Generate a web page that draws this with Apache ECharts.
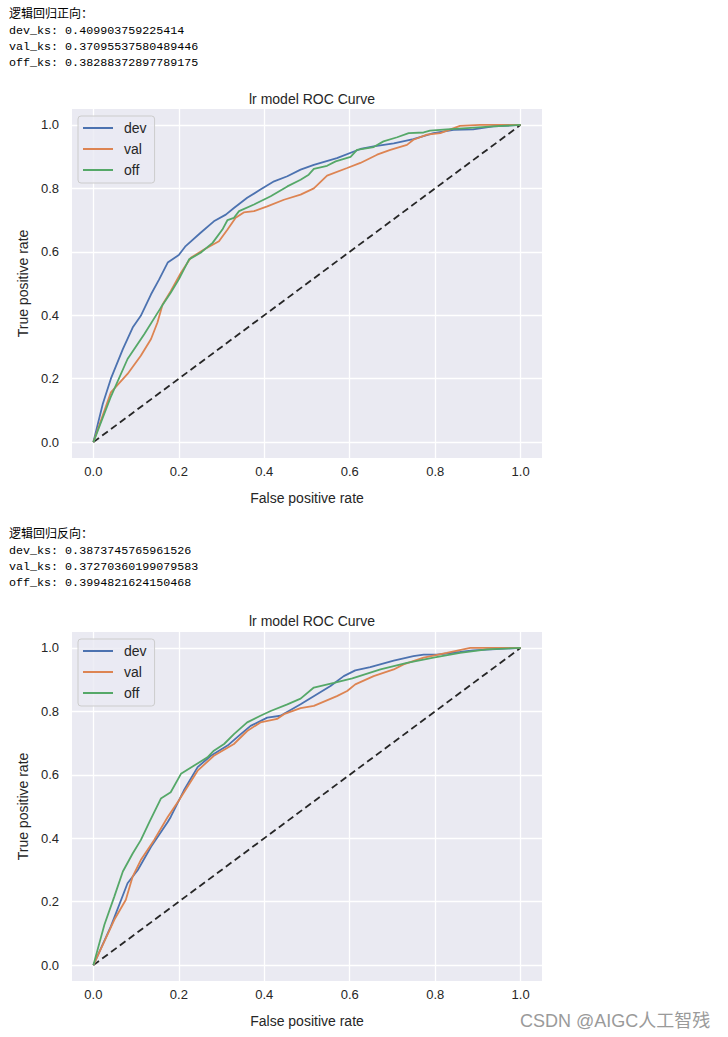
<!DOCTYPE html>
<html>
<head>
<meta charset="utf-8">
<script src="https://cdn.jsdelivr.net/npm/echarts@6/dist/echarts.min.js"></script>
<style>
  html, body { margin: 0; padding: 0; background: #ffffff; width: 728px; height: 1037px; overflow: hidden; }
  #chart { position: absolute; left: 0; top: 0; width: 728px; height: 1037px; }
  .txt { position: absolute; left: 9px; font-family: "Liberation Mono", "Noto Sans CJK SC", monospace; font-size: 11.7px; line-height: 16px; color: #000; white-space: pre; }
  .txt .cn { font-family: "Noto Sans CJK SC", sans-serif; font-size: 12px; }
  #wm { position: absolute; left: 520px; top: 1006px; font-family: "Liberation Sans", "Noto Sans CJK SC", sans-serif; font-size: 18px; color: #9a9a9a; }
</style>
</head>
<body>
<div id="chart"></div>
<div class="txt" style="top:5px"><span class="cn">逻辑回归正向：</span>
dev_ks: 0.409903759225414
val_ks: 0.37095537580489446
off_ks: 0.38288372897789175</div>
<div class="txt" style="top:525px"><span class="cn">逻辑回归反向：</span>
dev_ks: 0.3873745765961526
val_ks: 0.37270360199079583
off_ks: 0.3994821624150468</div>
<div id="wm">CSDN @AIGC人工智残</div>
<script>
// ---- data: top chart (逻辑回归正向) ----
const devTop = [[0,0],[0.022,0.12],[0.041,0.20],[0.069,0.293],[0.092,0.361],[0.111,0.398],[0.135,0.466],[0.154,0.513],[0.174,0.566],[0.2,0.59],[0.216,0.618],[0.251,0.66],[0.282,0.696],[0.31,0.717],[0.329,0.738],[0.36,0.77],[0.391,0.796],[0.423,0.822],[0.454,0.838],[0.485,0.859],[0.516,0.874],[0.57,0.895],[0.625,0.924],[0.656,0.932],[0.703,0.942],[0.749,0.955],[0.796,0.974],[0.843,0.984],[0.889,0.986],[0.936,0.995],[1,1]];
const valTop = [[0,0],[0.041,0.157],[0.08,0.215],[0.111,0.272],[0.135,0.325],[0.15,0.377],[0.162,0.434],[0.181,0.476],[0.205,0.534],[0.228,0.581],[0.259,0.607],[0.294,0.633],[0.314,0.67],[0.333,0.707],[0.352,0.724],[0.376,0.728],[0.407,0.743],[0.446,0.764],[0.485,0.78],[0.516,0.80],[0.547,0.84],[0.594,0.864],[0.625,0.88],[0.664,0.906],[0.695,0.921],[0.734,0.937],[0.749,0.953],[0.781,0.969],[0.812,0.974],[0.858,0.997],[0.905,1.0],[1,1]];
const offTop = [[0,0],[0.04,0.14],[0.08,0.262],[0.119,0.34],[0.158,0.424],[0.181,0.471],[0.2,0.513],[0.224,0.576],[0.251,0.597],[0.279,0.628],[0.302,0.67],[0.314,0.70],[0.329,0.707],[0.341,0.728],[0.376,0.749],[0.415,0.775],[0.454,0.806],[0.485,0.827],[0.504,0.843],[0.516,0.861],[0.547,0.871],[0.567,0.885],[0.602,0.899],[0.617,0.921],[0.656,0.930],[0.679,0.948],[0.711,0.961],[0.738,0.974],[0.773,0.976],[0.788,0.982],[0.827,0.986],[0.874,0.99],[0.936,0.995],[1,1]];
// ---- data: bottom chart (逻辑回归反向) ----
const devBot = [[0,0],[0.041,0.122],[0.08,0.258],[0.104,0.30],[0.135,0.373],[0.174,0.451],[0.181,0.467],[0.212,0.551],[0.244,0.624],[0.275,0.66],[0.314,0.692],[0.345,0.728],[0.368,0.754],[0.407,0.78],[0.438,0.786],[0.485,0.822],[0.555,0.88],[0.586,0.911],[0.613,0.929],[0.648,0.939],[0.703,0.96],[0.749,0.974],[0.773,0.979],[0.804,0.979],[0.858,0.987],[0.889,0.992],[1,1]];
const valBot = [[0,0],[0.049,0.143],[0.076,0.206],[0.092,0.279],[0.111,0.331],[0.142,0.394],[0.174,0.467],[0.2,0.519],[0.244,0.613],[0.282,0.66],[0.329,0.697],[0.36,0.738],[0.391,0.765],[0.43,0.776],[0.446,0.791],[0.485,0.81],[0.516,0.817],[0.57,0.848],[0.594,0.864],[0.613,0.885],[0.656,0.911],[0.703,0.932],[0.726,0.948],[0.773,0.969],[0.827,0.984],[0.882,1.0],[1,1]];
const offBot = [[0,0],[0.026,0.128],[0.049,0.216],[0.069,0.295],[0.092,0.352],[0.111,0.394],[0.131,0.451],[0.158,0.525],[0.181,0.545],[0.205,0.603],[0.236,0.629],[0.267,0.655],[0.282,0.676],[0.306,0.697],[0.329,0.728],[0.36,0.765],[0.391,0.786],[0.415,0.801],[0.454,0.822],[0.485,0.840],[0.516,0.875],[0.563,0.89],[0.606,0.904],[0.672,0.932],[0.734,0.953],[0.796,0.969],[0.858,0.984],[0.921,0.995],[1,1]];
const diagonal = [[0,0],[1,1]];
const ticks = [0, 0.2, 0.4, 0.6, 0.8, 1.0];
const seriesNames = ['dev', 'val', 'off'];
const titleText = 'lr model ROC Curve';
const xName = 'False positive rate';
const yName = 'True positive rate';

const colors = ['#4C72B0', '#DD8452', '#55A868'];
const font = '"Liberation Sans", Arial, sans-serif';
const txtColor = '#262626';

function mkX(idx) {
  return {
    gridIndex: idx, type: 'value', min: -0.05, max: 1.05,
    axisLine: { show: false },
    axisTick: { show: false, customValues: ticks },
    axisLabel: { customValues: ticks, formatter: v => v.toFixed(1), color: txtColor, fontSize: 13, fontFamily: font, margin: 7 },
    splitLine: { show: true, lineStyle: { color: '#ffffff', width: 1.3 } },
    name: xName, nameLocation: 'middle', nameGap: 33,
    nameTextStyle: { color: txtColor, fontSize: 14, fontFamily: font }
  };
}
function mkY(idx) {
  return {
    gridIndex: idx, type: 'value', min: -0.05, max: 1.05,
    axisLine: { show: false },
    axisTick: { show: false, customValues: ticks },
    axisLabel: { customValues: ticks, formatter: v => v.toFixed(1), color: txtColor, fontSize: 13, fontFamily: font, margin: 13 },
    splitLine: { show: true, lineStyle: { color: '#ffffff', width: 1.3 } },
    name: yName, nameLocation: 'middle', nameGap: 42, nameRotate: 90,
    nameTextStyle: { color: txtColor, fontSize: 14, fontFamily: font }
  };
}
function mkSeries(idx, sets) {
  const out = sets.map((d, i) => ({
    type: 'line', name: seriesNames[i], xAxisIndex: idx, yAxisIndex: idx,
    data: d, showSymbol: false, symbol: 'none', smooth: false,
    lineStyle: { color: colors[i], width: 1.8 }, itemStyle: { color: colors[i] },
    animation: false, z: 3
  }));
  out.push({
    type: 'line', name: 'diag', xAxisIndex: idx, yAxisIndex: idx, data: diagonal,
    showSymbol: false, symbol: 'none',
    lineStyle: { color: '#262626', width: 1.8, type: [7, 4] }, animation: false, z: 2
  });
  return out;
}
function mkLegend(top) {
  return {
    orient: 'vertical', left: 78, top: top,
    data: seriesNames.map((n, i) => ({ name: n, icon: 'rect', itemStyle: { color: colors[i] } })),
    itemWidth: 30, itemHeight: 2, itemGap: 7,
    textStyle: { color: txtColor, fontSize: 14, fontFamily: font, padding: [0, 0, 0, 6] },
    backgroundColor: 'rgba(234,234,242,0.8)', borderColor: '#cccccc', borderWidth: 1, borderRadius: 3,
    padding: [5, 8, 6, 5], selectedMode: false
  };
}

const chart = echarts.init(document.getElementById('chart'), null, { renderer: 'svg', width: 728, height: 1037 });
chart.setOption({
  backgroundColor: 'transparent',
  animation: false,
  title: [
    { text: titleText, left: 307, top: 87, textAlign: 'center', textStyle: { color: txtColor, fontSize: 14, fontWeight: 'normal', fontFamily: font } },
    { text: titleText, left: 307, top: 609, textAlign: 'center', textStyle: { color: txtColor, fontSize: 14, fontWeight: 'normal', fontFamily: font } }
  ],
  grid: [
    { left: 72, top: 109, width: 470, height: 349, show: true, backgroundColor: '#EAEAF2', borderWidth: 0 },
    { left: 72, top: 632, width: 470, height: 349, show: true, backgroundColor: '#EAEAF2', borderWidth: 0 }
  ],
  legend: [mkLegend(116), mkLegend(639)],
  xAxis: [mkX(0), mkX(1)],
  yAxis: [mkY(0), mkY(1)],
  series: [].concat(mkSeries(0, [devTop, valTop, offTop]), mkSeries(1, [devBot, valBot, offBot]))
});
</script>
</body>
</html>
